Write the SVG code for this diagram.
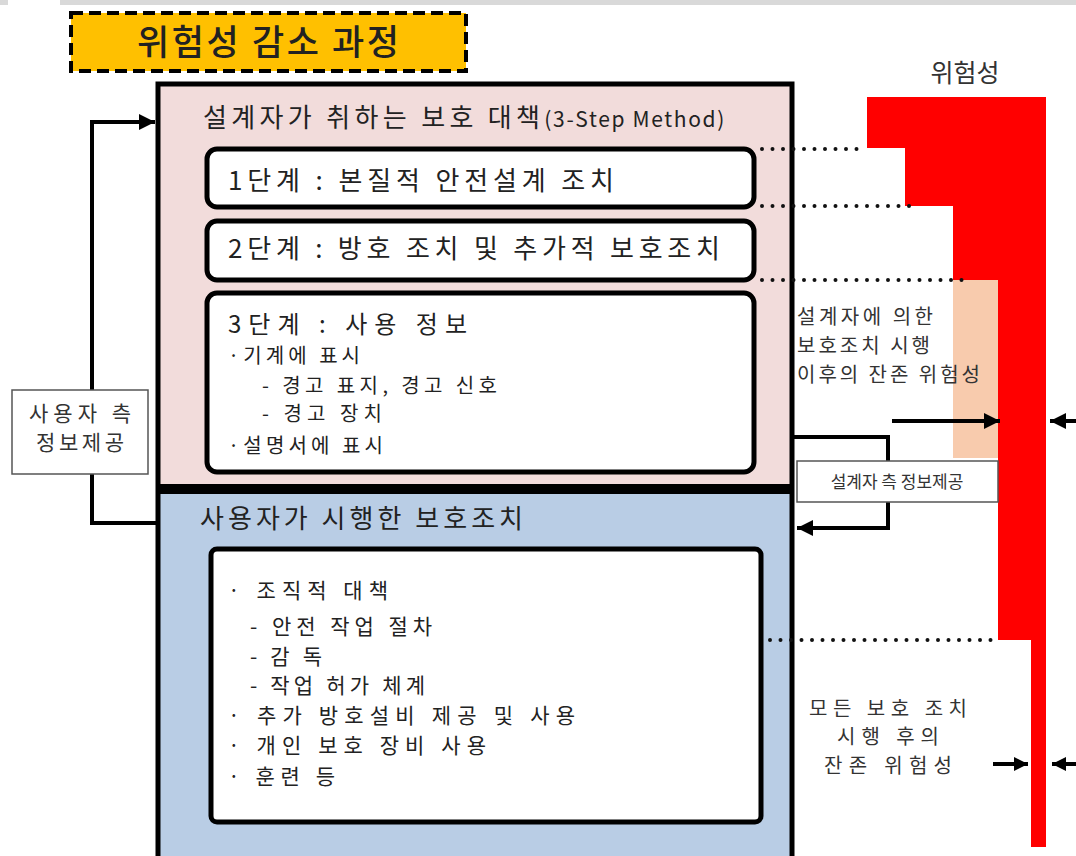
<svg xmlns="http://www.w3.org/2000/svg" width="1076" height="856" viewBox="0 0 1076 856">
<style>
text{font-family:"Malgun Gothic","Noto Sans CJK KR","Noto Sans",sans-serif;fill:#222;}
.box{fill:#fff;stroke:#000;stroke-width:5;}
.ln{fill:none;stroke:#000;stroke-width:4;}
.dot{fill:none;stroke:#111;stroke-width:4;stroke-linecap:round;stroke-dasharray:0 10.5;}
.lbl{fill:#fff;stroke:#555;stroke-width:1.5;}
.t22{font-size:26px;}
.t19{font-size:20px;}
.t21{font-size:21px;}
.g{fill:#333;}
</style>
<defs>
<marker id="ah" markerUnits="userSpaceOnUse" markerWidth="18" markerHeight="18" refX="16" refY="8" orient="auto">
<path d="M0,0 L16,8 L0,16 z" fill="#000"/>
</marker>
<marker id="ahs" markerUnits="userSpaceOnUse" markerWidth="16" markerHeight="16" refX="14" refY="7" orient="auto">
<path d="M0,0 L14,7 L0,14 z" fill="#000"/>
</marker>
</defs>
<rect width="1076" height="856" fill="#fff"/>
<rect x="0" y="0" width="8" height="5" fill="#d9d9d9"/>
<rect x="60" y="0" width="1016" height="5" fill="#d9d9d9"/>

<g id="title">
<rect x="71" y="13" width="395" height="58" fill="#FFC000" stroke="#000" stroke-width="4" stroke-dasharray="12 6"/>
<text x="268" y="55" text-anchor="middle" font-size="35" font-weight="500" textLength="262" lengthAdjust="spacing">위험성 감소 과정</text>
</g>

<g id="risk-chart">
<text x="965" y="82" text-anchor="middle" font-size="25" class="g">위험성</text>
<path d="M867,97 H1046 V847 H1031 V640 H998 V280 H953 V206 H905 V148 H867 Z" fill="#FF0000"/>
<rect x="953" y="280" width="45" height="178" fill="#F8CBAD"/>
</g>

<g id="designer-section">
<rect x="158" y="84" width="634" height="404" fill="#F2DCDB"/>
<text x="203" y="127" font-size="26"><tspan textLength="337" lengthAdjust="spacing">설계자가 취하는 보호 대책</tspan><tspan font-size="21" textLength="180" lengthAdjust="spacing">(3-Step Method)</tspan></text>
</g>

<g id="user-section">
<rect x="158" y="490" width="634" height="370" fill="#B9CDE5"/>
<text x="200" y="528" class="t22" textLength="323" lengthAdjust="spacing">사용자가 시행한 보호조치</text>
</g>

<rect x="158" y="84" width="634" height="780" fill="none" stroke="#000" stroke-width="5"/>
<rect x="156" y="484" width="638" height="10" fill="#000"/>

<g id="step1">
<rect class="box" x="207" y="149" width="547" height="58" rx="10"/>
<text x="228" y="190" class="t22" textLength="386" lengthAdjust="spacing">1단계  :  본질적 안전설계 조치</text>
</g>

<g id="step2">
<rect class="box" x="207" y="221" width="547" height="59" rx="10"/>
<text x="228" y="258" class="t22" textLength="492" lengthAdjust="spacing">2단계  :  방호 조치 및 추가적 보호조치</text>
</g>

<g id="step3">
<rect class="box" x="207" y="293" width="547" height="179" rx="10"/>
<text x="228" y="333" font-size="24" textLength="239" lengthAdjust="spacing">3단계  :  사용 정보</text>
<text x="228" y="363" class="t19" textLength="132" lengthAdjust="spacing">·기계에 표시</text>
<text x="262" y="393" class="t19" textLength="235" lengthAdjust="spacing">- 경고 표지, 경고 신호</text>
<text x="262" y="421" class="t19" textLength="120" lengthAdjust="spacing">- 경고 장치</text>
<text x="228" y="453" class="t19" textLength="155" lengthAdjust="spacing">·설명서에 표시</text>
</g>

<g id="user-measures">
<rect class="box" x="211" y="549" width="550" height="273" rx="6"/>
<text x="228" y="598" class="t21" textLength="160" lengthAdjust="spacing">· 조직적 대책</text>
<text x="250" y="634" class="t21" textLength="182" lengthAdjust="spacing">- 안전 작업 절차</text>
<text x="250" y="664" class="t21" textLength="72" lengthAdjust="spacing">- 감 독</text>
<text x="250" y="693" class="t21" textLength="175" lengthAdjust="spacing">- 작업 허가 체계</text>
<text x="228" y="723" class="t21" textLength="347" lengthAdjust="spacing">· 추가 방호설비 제공 및 사용</text>
<text x="228" y="753" class="t21" textLength="258" lengthAdjust="spacing">· 개인 보호 장비 사용</text>
<text x="228" y="784" class="t21" textLength="107" lengthAdjust="spacing">· 훈련 등</text>
</g>

<g id="connectors">
<path class="dot" d="M762,149 H862"/>
<path class="dot" d="M762,206 H910"/>
<path class="dot" d="M762,280 H972"/>
<path class="dot" d="M770,640 H994"/>
<path class="ln" d="M158,523 H92 V122 H155" marker-end="url(#ah)"/>
<path class="ln" d="M794,437 H888 V528 H797" marker-end="url(#ah)"/>
<path class="ln" d="M892,421 H1000" marker-end="url(#ah)"/>
<path class="ln" d="M1076,421 H1050" marker-end="url(#ah)"/>
<path class="ln" d="M993,764 H1028" marker-end="url(#ahs)"/>
<path class="ln" d="M1076,764 H1052" marker-end="url(#ahs)"/>
</g>

<g id="user-info-label">
<rect class="lbl" x="12" y="390" width="136" height="84"/>
<text x="80" y="421" text-anchor="middle" font-size="21" class="g" textLength="102" lengthAdjust="spacing">사용자 측</text>
<text x="80" y="450" text-anchor="middle" font-size="21" class="g" textLength="88" lengthAdjust="spacing">정보제공</text>
</g>

<g id="designer-info-label">
<rect class="lbl" x="797" y="461" width="201" height="41"/>
<text x="897" y="488" text-anchor="middle" font-size="17" class="g">설계자 측 정보제공</text>
</g>

<g id="residual-after-designer">
<text x="797" y="324" font-size="20" class="g" textLength="136" lengthAdjust="spacing">설계자에 의한</text>
<text x="797" y="353" font-size="20" class="g" textLength="133" lengthAdjust="spacing">보호조치 시행</text>
<text x="797" y="382" font-size="20" class="g" textLength="183" lengthAdjust="spacing">이후의 잔존 위험성</text>
</g>

<g id="residual-final">
<text x="888" y="716" text-anchor="middle" font-size="20" class="g" textLength="158" lengthAdjust="spacing">모든 보호 조치</text>
<text x="888" y="744" text-anchor="middle" font-size="20" class="g" textLength="102" lengthAdjust="spacing">시행 후의</text>
<text x="888" y="773" text-anchor="middle" font-size="20" class="g" textLength="128" lengthAdjust="spacing">잔존 위험성</text>
</g>
</svg>
